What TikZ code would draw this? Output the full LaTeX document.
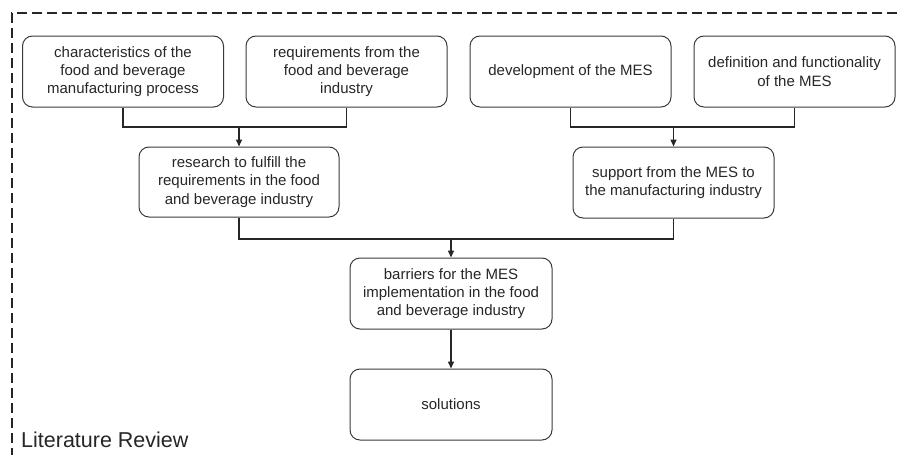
\documentclass[tikz,border=0pt]{standalone}
\usepackage{fontspec}
\setmainfont{Liberation Sans}
\usetikzlibrary{arrows.meta}
\definecolor{ink}{HTML}{262626}
\definecolor{edge}{HTML}{3A3A3A}
\begin{document}
\begin{tikzpicture}[x=1pt,y=-1pt,
  stepbox/.style={draw=edge, line width=1pt, rounded corners=10pt,
    minimum width=201pt, minimum height=71pt, align=center, inner sep=0pt,
    text=ink, font=\fontsize{15}{18.3}\selectfont},
  link/.style={draw=ink, line width=1.5pt},
  flow/.style={link, -{Triangle[length=7pt,width=6pt]}}]
  \useasboundingbox (0,0) rectangle (897,455);

  % dashed frame, open at the right and bottom
  \draw[ink, line width=1.5pt, dash pattern=on 10pt off 5pt]
    (897,13) -- (12,13) -- (12,455);

  % top row
  \node[stepbox] (b1) at (123,71.5) {characteristics of the\\food and beverage\\manufacturing process};
  \node[stepbox] (b2) at (346.5,71.5) {requirements from the\\food and beverage\\industry};
  \node[stepbox] (b3) at (570.5,71.5) {development of the MES};
  \node[stepbox] (b4) at (794.5,71.5) {definition and functionality\\of the MES};

  % middle row
  \node[stepbox, minimum width=200pt, minimum height=70pt] (r) at (239,182) {research to fulfill the\\requirements in the food\\and beverage industry};
  \node[stepbox] (s) at (673.5,182.5) {support from the MES to\\the manufacturing industry};

  % bottom column
  \node[stepbox, minimum width=202pt] (bar) at (451,293.5) {barriers for the MES\\implementation in the food\\and beverage industry};
  \node[stepbox, minimum width=202pt] (sol) at (451,404.5) {solutions};

  % junctions
  \coordinate (j1) at (239,127);
  \coordinate (j2) at (673.5,127);
  \coordinate (j3) at (451,239);

  \draw[link] (b1.south) |- (j1);
  \draw[link] (b2.south) |- (j1);
  \draw[flow] (j1) -- (r.north);

  \draw[link] (b3.south) |- (j2);
  \draw[link] (b4.south) |- (j2);
  \draw[flow] (j2) -- (s.north);

  \draw[link] (r.south) |- (j3);
  \draw[link] (s.south) |- (j3);
  \draw[flow] (j3) -- (bar.north);

  \draw[flow] (bar.south) -- (sol.north);

  \node[anchor=base west, inner sep=0pt, text=ink, font=\fontsize{21.5}{24}\selectfont] (title) at (21,447) {Literature Review};
\end{tikzpicture}
\end{document}
